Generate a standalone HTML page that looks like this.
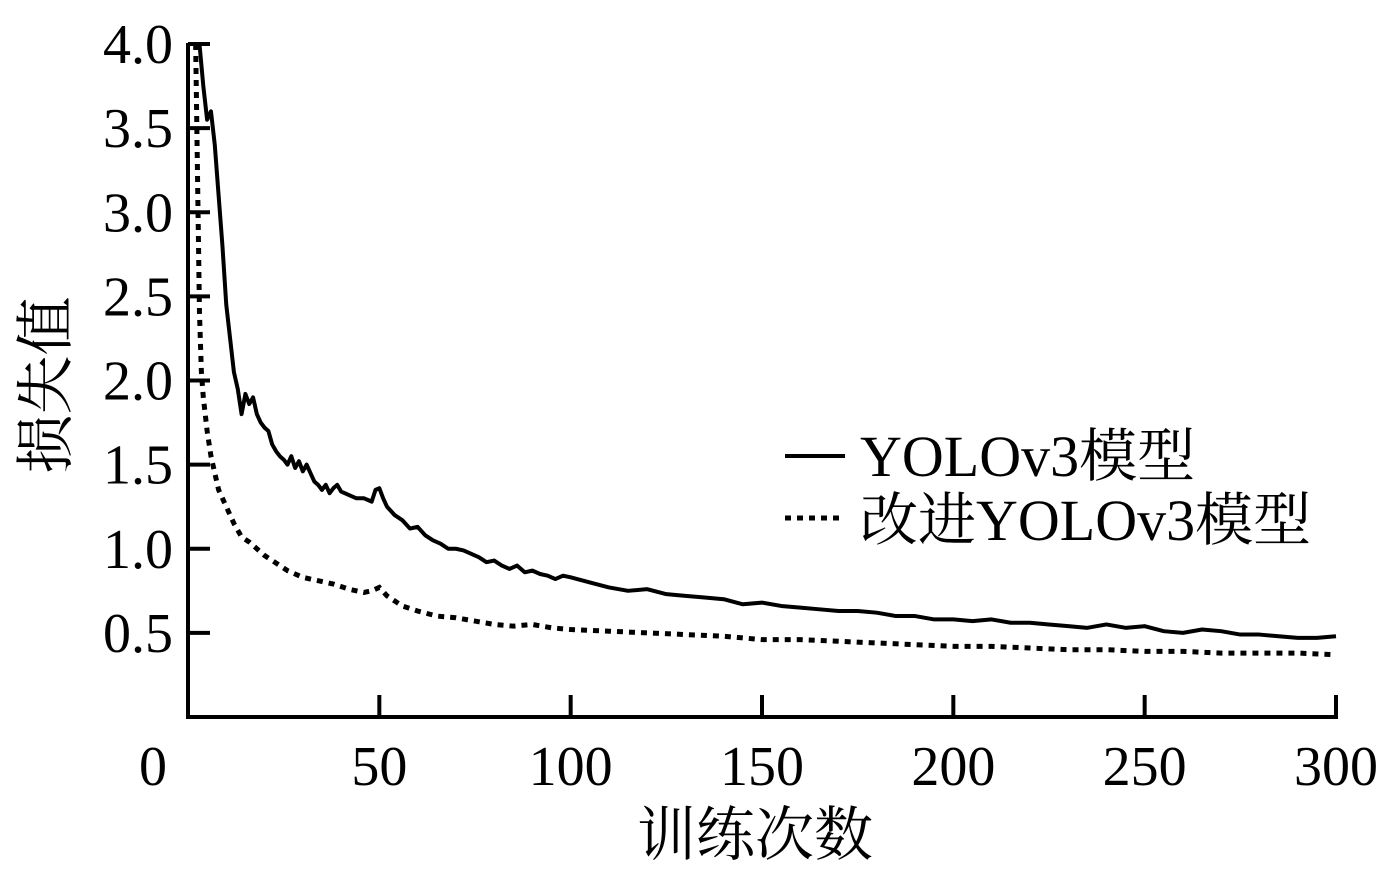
<!DOCTYPE html>
<html><head><meta charset="utf-8"><style>
html,body{margin:0;padding:0;background:#fff}
svg text{font-family:"Liberation Serif","Noto Serif CJK SC",serif;fill:#000}
</style></head><body>
<svg width="1397" height="865" viewBox="0 0 1397 865" id="chart"></svg>
<script>
const xTicks=[0,50,100,150,200,250,300];
const yTicks=[0.5,1.0,1.5,2.0,2.5,3.0,3.5,4.0];
const yTickLabels=["0.5","1.0","1.5","2.0","2.5","3.0","3.5","4.0"];
const yoloX=[3,4,5,6,7,8,9,10,11,12,13,14,15,16,17,18,19,20,21,22,23,24,25,26,27,28,29,30,31,32,33,34,35,36,37,38,39,40,42,44,46,48,49,50,51,52,54,56,58,60,62,64,66,68,70,72,74,76,78,80,82,84,86,88,90,92,94,96,98,100,105,110,115,120,125,130,135,140,145,150,155,160,165,170,175,180,185,190,195,200,205,210,215,220,225,230,235,240,245,250,255,260,265,270,275,280,285,290,295,300];
const yoloY=[4.0,3.75,3.55,3.6,3.4,3.1,2.8,2.45,2.25,2.05,1.95,1.8,1.92,1.86,1.9,1.8,1.75,1.72,1.7,1.62,1.58,1.55,1.53,1.5,1.55,1.48,1.52,1.46,1.5,1.45,1.4,1.38,1.35,1.38,1.33,1.36,1.38,1.34,1.32,1.3,1.3,1.28,1.35,1.36,1.3,1.25,1.2,1.17,1.12,1.13,1.08,1.05,1.03,1.0,1.0,0.99,0.97,0.95,0.92,0.93,0.9,0.88,0.9,0.86,0.87,0.85,0.84,0.82,0.84,0.83,0.8,0.77,0.75,0.76,0.73,0.72,0.71,0.7,0.67,0.68,0.66,0.65,0.64,0.63,0.63,0.62,0.6,0.6,0.58,0.58,0.57,0.58,0.56,0.56,0.55,0.54,0.53,0.55,0.53,0.54,0.51,0.5,0.52,0.51,0.49,0.49,0.48,0.47,0.47,0.48];
const impX=[2,2.5,3,3.5,4,5,6,7,8,10,12,14,16,18,20,22,24,26,28,30,34,38,42,46,48,50,52,56,60,65,70,75,80,85,90,95,100,110,120,130,140,150,160,170,180,190,200,210,220,230,240,250,260,270,280,290,300];
const impY=[4.0,3.2,2.4,2.05,1.9,1.7,1.55,1.45,1.35,1.25,1.15,1.07,1.04,1.0,0.96,0.93,0.9,0.87,0.85,0.83,0.81,0.79,0.76,0.74,0.75,0.77,0.72,0.66,0.63,0.6,0.59,0.57,0.55,0.54,0.55,0.53,0.52,0.51,0.5,0.49,0.48,0.46,0.46,0.45,0.44,0.43,0.42,0.42,0.41,0.4,0.4,0.39,0.39,0.38,0.38,0.38,0.37];

const NS="http://www.w3.org/2000/svg";
const svg=document.getElementById('chart');
const X0=188,X1=1336,Y0=717,YTOP=43;
const sx=v=>X0+(v/300)*(X1-X0);
const sy=v=>Y0-(v/4.0)*(Y0-44);
function mk(tag,attrs){const e=document.createElementNS(NS,tag);for(const k in attrs)e.setAttribute(k,attrs[k]);svg.appendChild(e);return e;}

let ax=mk('path',{d:`M${X0},${YTOP} V${Y0} H${X1+2}`,stroke:'#000','stroke-width':4,fill:'none'});



xTicks.forEach(t=>{
  const l=mk('line',{x1:sx(t),x2:sx(t),y1:Y0,y2:Y0-22,stroke:'#000','stroke-width':4});
  
  
  const tx=mk('text',{x:t===0?153:sx(t),y:785,'font-size':56,'text-anchor':'middle'});
  tx.textContent=String(t);
  
  
});
yTicks.forEach((t,i)=>{
  const l=mk('line',{x1:X0,x2:X0+22,y1:sy(t),y2:sy(t),stroke:'#000','stroke-width':4});
  
  
  const tx=mk('text',{x:173,y:sy(t)+19,'font-size':56,'text-anchor':'end'});
  tx.textContent=yTickLabels[i];
  
  
});

const p1=mk('polyline',{points:yoloX.map((x,i)=>sx(x)+','+sy(yoloY[i])).join(' '),fill:'none',stroke:'#000','stroke-width':4,'stroke-linejoin':'round'});


const p2=mk('polyline',{points:impX.map((x,i)=>sx(x)+','+sy(impY[i])).join(' '),fill:'none',stroke:'#000','stroke-width':5,'stroke-dasharray':'6,6'});



const l1=mk('line',{x1:785,x2:845,y1:456,y2:456,stroke:'#000','stroke-width':4});


const t1=mk('text',{x:860,y:476,'font-size':58});t1.textContent='YOLOv3模型';


const l2=mk('line',{x1:785,x2:845,y1:518,y2:518,stroke:'#000','stroke-width':5,'stroke-dasharray':'6,6'});


const t2=mk('text',{x:860,y:540,'font-size':58});t2.textContent='改进YOLOv3模型';



const xl=mk('text',{x:755,y:855,'font-size':59,'text-anchor':'middle'});xl.textContent='训练次数';


const yl=mk('text',{x:0,y:0,'font-size':59,'text-anchor':'middle',transform:'translate(66,385) rotate(-90)'});yl.textContent='损失值';


</script>
</body></html>
